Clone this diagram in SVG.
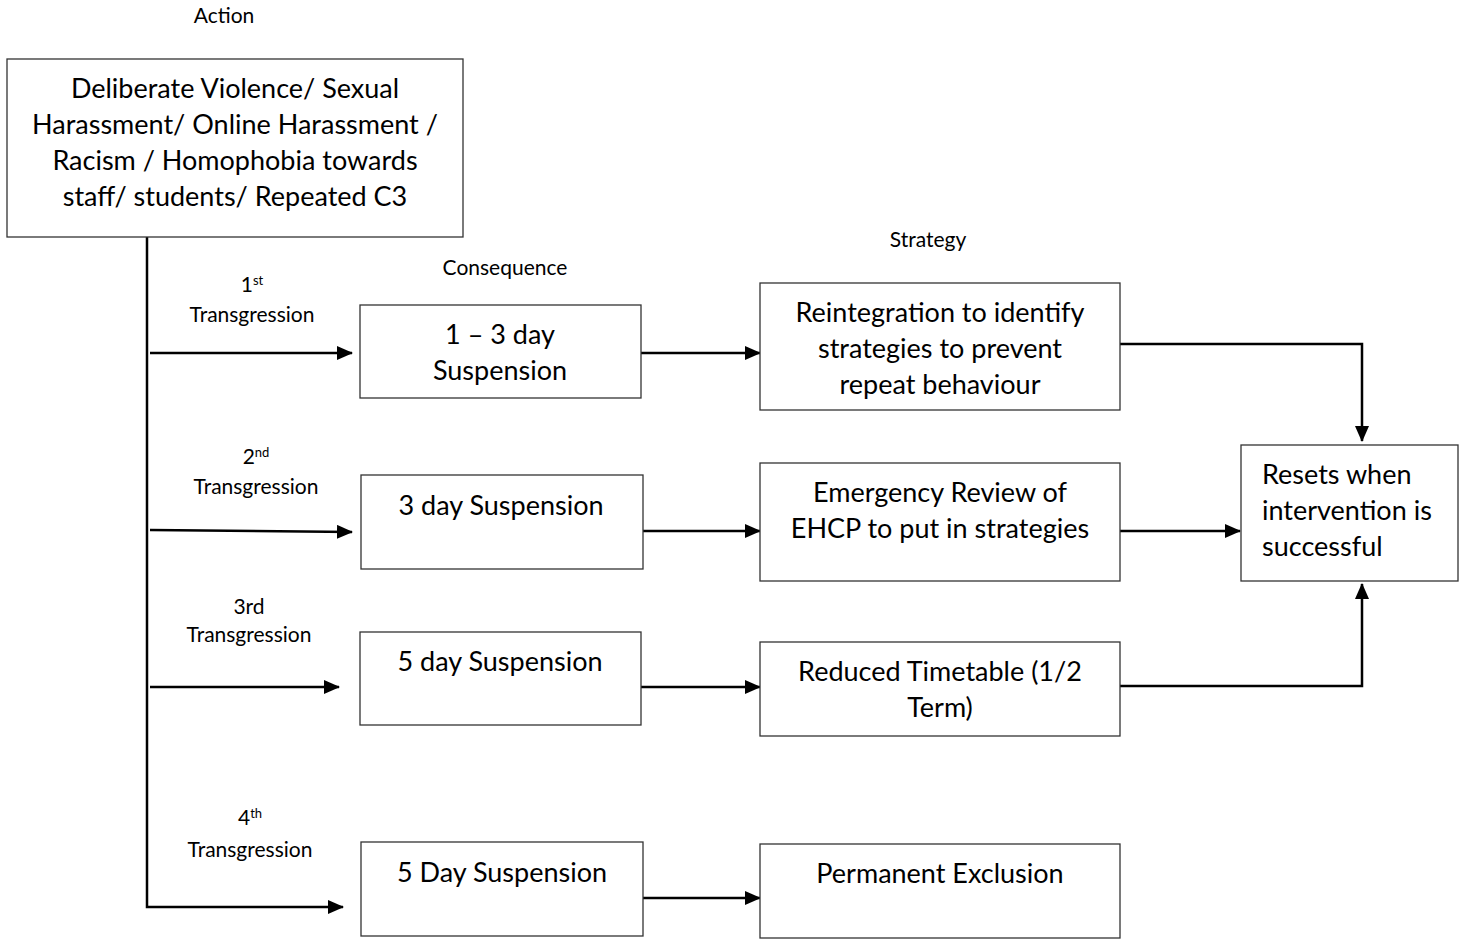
<svg xmlns="http://www.w3.org/2000/svg" width="1467" height="940" viewBox="0 0 1467 940">
<style>
.box{fill:#fff;stroke:#333;stroke-width:1.3}
.t{font-family:Lato,"Open Sans","Liberation Sans",sans-serif;font-size:27px;fill:#000;text-anchor:middle}
.s{text-anchor:start}
.l{font-family:Lato,"Open Sans","Liberation Sans",sans-serif;font-size:21px;fill:#000;text-anchor:middle}
.sup{font-size:13px}
.c{fill:none;stroke:#000;stroke-width:2.5}
</style>
<defs>
<marker id="ah" markerWidth="16" markerHeight="14" refX="15" refY="7" orient="auto" markerUnits="userSpaceOnUse">
<path d="M0,0 L16,7 L0,14 Z" fill="#000"/>
</marker>
</defs>
<rect width="1467" height="940" fill="#fff"/>
<g id="headers">
<text class="l" x="224" y="23">Action</text>
<text class="l" x="505" y="275">Consequence</text>
<text class="l" x="928" y="247">Strategy</text>
</g>
<g id="labels">
<text class="l" x="252" y="292">1<tspan class="sup" dy="-7">st</tspan></text>
<text class="l" x="252" y="322">Transgression</text>
<text class="l" x="256" y="464">2<tspan class="sup" dy="-7">nd</tspan></text>
<text class="l" x="256" y="494">Transgression</text>
<text class="l" x="249" y="614">3rd</text>
<text class="l" x="249" y="642">Transgression</text>
<text class="l" x="250" y="825">4<tspan class="sup" dy="-7">th</tspan></text>
<text class="l" x="250" y="857">Transgression</text>
</g>
<g id="connectors">
<path class="c" d="M147,237 L147,907 L343,907" marker-end="url(#ah)"/>
<path class="c" d="M150,353 L352,353" marker-end="url(#ah)"/>
<path class="c" d="M150,530 L352,532" marker-end="url(#ah)"/>
<path class="c" d="M150,687 L339,687" marker-end="url(#ah)"/>
<path class="c" d="M641,353 L760,353" marker-end="url(#ah)"/>
<path class="c" d="M643,531 L760,531" marker-end="url(#ah)"/>
<path class="c" d="M641,687 L760,687" marker-end="url(#ah)"/>
<path class="c" d="M643,898 L760,898" marker-end="url(#ah)"/>
<path class="c" d="M1120,531 L1240,531" marker-end="url(#ah)"/>
<path class="c" d="M1120,344 L1362,344 L1362,441" marker-end="url(#ah)"/>
<path class="c" d="M1120,686 L1362,686 L1362,584" marker-end="url(#ah)"/>
</g>
<g id="action">
<rect class="box" x="7" y="59" width="456" height="178"/>
<text class="t" x="235" y="98">Deliberate Violence/ Sexual</text>
<text class="t" x="235" y="134">Harassment/ Online Harassment /</text>
<text class="t" x="235" y="170">Racism / Homophobia towards</text>
<text class="t" x="235" y="206">staff/ students/ Repeated C3</text>
</g>
<g id="cons1">
<rect class="box" x="360" y="305" width="281" height="93"/>
<text class="t" x="500" y="344">1 – 3 day</text>
<text class="t" x="500" y="380">Suspension</text>
</g>
<g id="cons2">
<rect class="box" x="361" y="475" width="282" height="94"/>
<text class="t" x="501" y="515">3 day Suspension</text>
</g>
<g id="cons3">
<rect class="box" x="360" y="632" width="281" height="93"/>
<text class="t" x="500" y="671">5 day Suspension</text>
</g>
<g id="cons4">
<rect class="box" x="361" y="842" width="282" height="94"/>
<text class="t" x="502" y="882">5 Day Suspension</text>
</g>
<g id="strat1">
<rect class="box" x="760" y="283" width="360" height="127"/>
<text class="t" x="940" y="322">Reintegration to identify</text>
<text class="t" x="940" y="358">strategies to prevent</text>
<text class="t" x="940" y="394">repeat behaviour</text>
</g>
<g id="strat2">
<rect class="box" x="760" y="463" width="360" height="118"/>
<text class="t" x="940" y="502">Emergency Review of</text>
<text class="t" x="940" y="538">EHCP to put in strategies</text>
</g>
<g id="strat3">
<rect class="box" x="760" y="642" width="360" height="94"/>
<text class="t" x="940" y="681">Reduced Timetable (1/2</text>
<text class="t" x="940" y="717">Term)</text>
</g>
<g id="strat4">
<rect class="box" x="760" y="844" width="360" height="94"/>
<text class="t" x="940" y="883">Permanent Exclusion</text>
</g>
<g id="resets">
<rect class="box" x="1241" y="445" width="217" height="136"/>
<text class="t s" x="1262" y="484">Resets when</text>
<text class="t s" x="1262" y="520">intervention is</text>
<text class="t s" x="1262" y="556">successful</text>
</g>
</svg>
